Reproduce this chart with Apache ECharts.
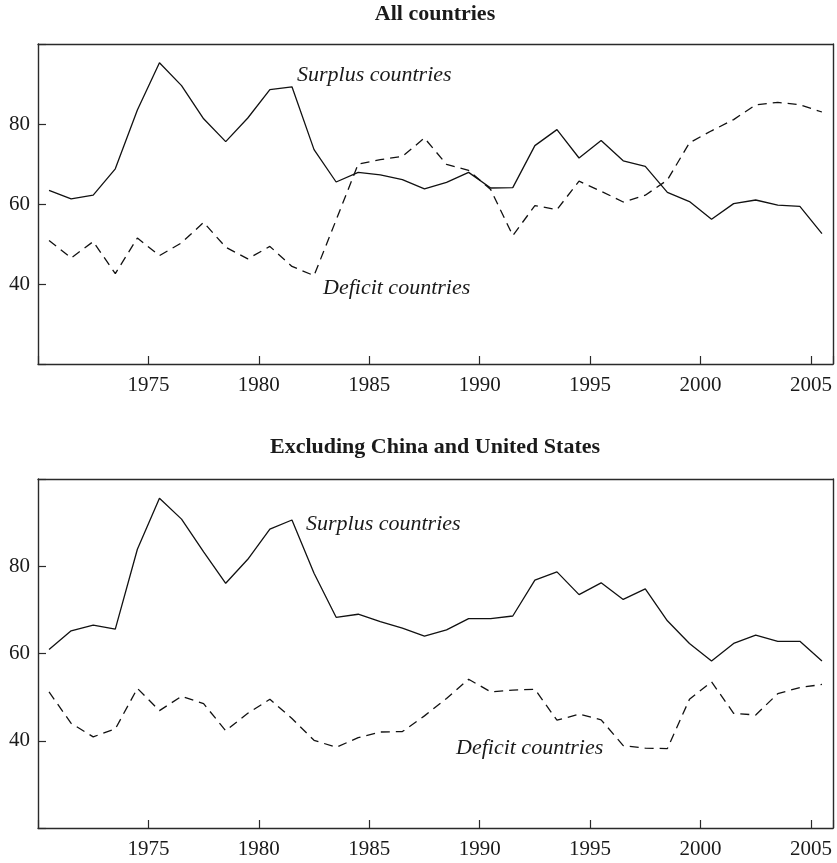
<!DOCTYPE html>
<html>
<head>
<meta charset="utf-8">
<script src="https://cdn.jsdelivr.net/npm/echarts@6/dist/echarts.min.js"></script>
<style>html,body{margin:0;padding:0;background:#fff;}#c{width:837px;height:863px;}</style>
</head>
<body>
<div id="c"></div>
<script>
// Mid-year positions of each observation
const years = [1970.5,1971.5,1972.5,1973.5,1974.5,1975.5,1976.5,1977.5,1978.5,1979.5,
  1980.5,1981.5,1982.5,1983.5,1984.5,1985.5,1986.5,1987.5,1988.5,1989.5,
  1990.5,1991.5,1992.5,1993.5,1994.5,1995.5,1996.5,1997.5,1998.5,1999.5,
  2000.5,2001.5,2002.5,2003.5,2004.5,2005.5];

// Panel 1: All countries
const allSurplus = [63.4,61.3,62.2,68.8,83.5,95.3,89.6,81.3,75.6,81.5,
  88.6,89.3,73.6,65.5,67.9,67.3,66.1,63.8,65.4,67.9,
  64.0,64.1,74.6,78.6,71.5,75.9,70.8,69.4,62.9,60.6,
  56.2,60.1,61.0,59.7,59.4,52.6];
const allDeficit = [50.9,46.5,50.6,42.6,51.5,47.1,50.3,55.4,49.2,46.3,
  49.4,44.4,42.1,56.0,70.0,71.1,71.9,76.5,69.9,68.4,
  63.6,52.1,59.6,58.6,65.7,63.2,60.5,62.2,66.0,75.3,
  78.3,81.1,84.8,85.4,84.8,83.0];

// Panel 2: Excluding China and United States
const exSurplus = [60.9,65.2,66.5,65.6,83.9,95.6,90.8,83.3,76.1,81.6,
  88.5,90.6,78.4,68.3,69.0,67.3,65.8,64.0,65.4,68.0,
  68.0,68.6,76.8,78.7,73.5,76.2,72.4,74.8,67.5,62.3,
  58.3,62.3,64.2,62.8,62.8,58.3];
const exDeficit = [51.2,44.0,40.9,42.7,52.0,46.9,50.2,48.5,42.3,46.3,
  49.5,45.1,40.1,38.5,40.7,42.0,42.1,45.7,49.7,54.1,
  51.2,51.6,51.8,44.7,46.1,44.8,38.9,38.3,38.2,49.5,
  53.5,46.3,45.9,50.8,52.2,52.9];

const xTickLabels = [1975,1980,1985,1990,1995,2000,2005];
const yTickLabels = [40,60,80];

const titles = ['All countries','Excluding China and United States'];
const surplusLabel = 'Surplus countries';
const deficitLabel = 'Deficit countries';

const pair = (xs, ys) => xs.map((x, i) => [x, ys[i]]);

const SERIF = '"Liberation Serif", "DejaVu Serif", serif';
const AX = '#2a2a2a';
const INK = '#111';

function xAxis(gi) {
  return {
    type: 'value', gridIndex: gi, min: 1970, max: 2006, interval: 5,
    axisLine: {show: true, lineStyle: {color: AX, width: 1.4}},
    axisTick: {show: true, inside: true, length: 8, lineStyle: {color: AX, width: 1.2}},
    axisLabel: {
      show: true, margin: 11, color: '#1a1a1a', fontFamily: SERIF, fontSize: 21,
      formatter: v => xTickLabels.includes(v) ? String(v) : ''
    },
    splitLine: {show: false}
  };
}
function xAxisTop(gi) {
  return {
    type: 'value', gridIndex: gi, position: 'top', min: 1970, max: 2006,
    axisLine: {show: true, lineStyle: {color: AX, width: 1.4}},
    axisTick: {show: false}, axisLabel: {show: false}, splitLine: {show: false}
  };
}
function yAxis(gi) {
  return {
    type: 'value', gridIndex: gi, min: 20, max: 100, interval: 20,
    axisLine: {show: true, lineStyle: {color: AX, width: 1.4}},
    axisTick: {show: true, inside: true, length: 8, lineStyle: {color: AX, width: 1.2}},
    axisLabel: {
      show: true, margin: 8, color: '#1a1a1a', fontFamily: SERIF, fontSize: 21,
      formatter: v => yTickLabels.includes(v) ? String(v) : ''
    },
    splitLine: {show: false}
  };
}
function yAxisRight(gi) {
  return {
    type: 'value', gridIndex: gi, position: 'right', min: 20, max: 100,
    axisLine: {show: true, lineStyle: {color: AX, width: 1.4}},
    axisTick: {show: false}, axisLabel: {show: false}, splitLine: {show: false}
  };
}

function lineSeries(xi, yi, data, dashed) {
  return {
    type: 'line', xAxisIndex: xi, yAxisIndex: yi, data: data,
    symbol: 'none', smooth: false, animation: false,
    lineStyle: {color: INK, width: 1.3, type: dashed ? [9, 6] : 'solid'}
  };
}

function txt(x, y, text, style) {
  return {type: 'text', x: x, y: y, silent: true,
    style: Object.assign({text: text, fill: '#1a1a1a', fontFamily: SERIF, verticalAlign: 'middle'}, style)};
}

const chart = echarts.init(document.getElementById('c'), null, {renderer: 'canvas'});
chart.setOption({
  backgroundColor: '#fff',
  animation: false,
  grid: [
    {left: 38, top: 44, width: 795, height: 320},
    {left: 38, top: 479, width: 795, height: 349}
  ],
  xAxis: [xAxis(0), xAxis(1), xAxisTop(0), xAxisTop(1)],
  yAxis: [yAxis(0), yAxis(1), yAxisRight(0), yAxisRight(1)],
  series: [
    lineSeries(0, 0, pair(years, allSurplus), false),
    lineSeries(0, 0, pair(years, allDeficit), true),
    lineSeries(1, 1, pair(years, exSurplus), false),
    lineSeries(1, 1, pair(years, exDeficit), true)
  ],
  graphic: [
    txt(435, 14, titles[0], {fontWeight: 'bold', fontSize: 22, align: 'center'}),
    txt(435, 447, titles[1], {fontWeight: 'bold', fontSize: 22, align: 'center'}),
    txt(297, 75, surplusLabel, {fontStyle: 'italic', fontSize: 22, align: 'left'}),
    txt(323, 288, deficitLabel, {fontStyle: 'italic', fontSize: 22, align: 'left'}),
    txt(306, 524, surplusLabel, {fontStyle: 'italic', fontSize: 22, align: 'left'}),
    txt(456, 748, deficitLabel, {fontStyle: 'italic', fontSize: 22, align: 'left'})
  ]
});
</script>
</body>
</html>
